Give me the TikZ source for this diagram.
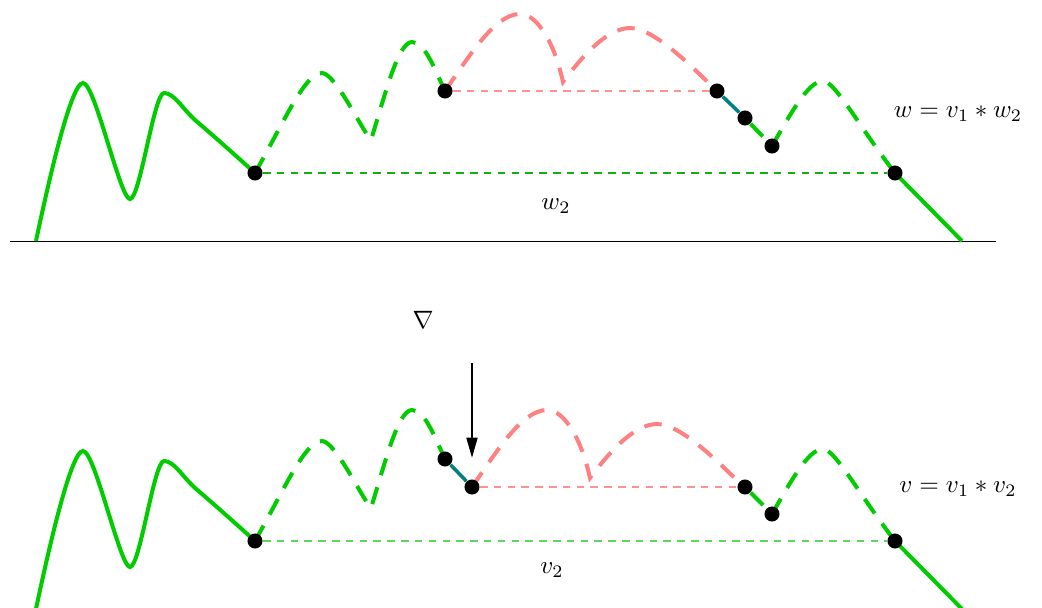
\documentclass[tikz,border=0pt]{standalone}
\usepackage{amsmath,amssymb}
\usetikzlibrary{arrows.meta,backgrounds}
\definecolor{WalkGreen}{RGB}{0,204,0}
\definecolor{LoopPink}{RGB}{255,128,128}
\definecolor{CutTeal}{RGB}{0,128,128}
\definecolor{LevelGreen}{RGB}{20,175,20}
\definecolor{LevelLight}{RGB}{95,215,95}
\definecolor{LevelPink}{RGB}{255,145,145}

\begin{document}
\begin{tikzpicture}[x=1.4cm, y=-1.4cm, line join=round,
  walk/.style={WalkGreen, line width=1.6pt},
  walkdash/.style={walk, dash pattern=on 7pt off 5pt},
  loopdash/.style={LoopPink, line width=1.6pt, dash pattern=on 7pt off 5pt},
  cut/.style={CutTeal, line width=1.4pt},
  level/.style={line width=0.5pt, dash pattern=on 3pt off 2.5pt},
  dot/.style={circle, fill=black, inner sep=0pt, minimum size=6pt}]
  \useasboundingbox (0,0) rectangle (10.42,6.07);
  % dots of w (top) and v (bottom)
  \node[dot] (wa) at (2.55,1.73) {};
  \node[dot] (wb) at (4.45,0.91) {};
  \node[dot] (wc) at (7.17,0.91) {};
  \node[dot] (wd) at (7.45,1.18) {};
  \node[dot] (we) at (7.72,1.46) {};
  \node[dot] (wf) at (8.95,1.73) {};
  \node[dot] (va) at (2.55,5.41) {};
  \node[dot] (vb) at (4.45,4.59) {};
  \node[dot] (vc) at (4.72,4.87) {};
  \node[dot] (vd) at (7.45,4.87) {};
  \node[dot] (ve) at (7.72,5.14) {};
  \node[dot] (vf) at (8.95,5.41) {};
  % labels
  \node (wlabel) at (9.58,1.14) {$w = v_1 * w_2$};
  \node (wlevel) at (5.56,2.06) {$w_2$};
  \node (vlabel) at (9.58,4.89) {$v = v_1 * v_2$};
  \node (vlevel) at (5.52,5.70) {$v_2$};
  \node (grad) at (4.23,3.20) {$\nabla$};
  \coordinate (tail) at (4.72,3.63);
  \draw[-{Triangle[length=8pt,width=4.5pt]}, shorten >=8.5pt] (tail) -- (vc);

  \begin{scope}[on background layer]
  \draw (0.10,2.41) -- (9.96,2.41);
  \foreach \dy in {0,3.68} {
    \begin{scope}[shift={(0,\dy)}]
      \draw[walk] (0.36,2.41) .. controls (0.52,1.65) and (0.72,0.83) .. (0.83,0.83)
        .. controls (0.95,0.83) and (1.20,1.99) .. (1.30,1.99)
        .. controls (1.40,1.99) and (1.54,0.93) .. (1.64,0.93)
        .. controls (1.74,0.93) and (1.82,1.08) .. (1.95,1.20)
        .. controls (2.15,1.37) and (2.35,1.55) .. (2.55,1.73);
      \draw[walkdash] (2.55,1.73) .. controls (2.85,1.20) and (3.05,0.73) .. (3.22,0.73)
        .. controls (3.35,0.73) and (3.62,1.30) .. (3.71,1.40)
        .. controls (3.85,0.95) and (3.98,0.42) .. (4.12,0.42)
        .. controls (4.25,0.42) and (4.35,0.70) .. (4.45,0.91);
      \draw[walkdash] (7.72,1.46) .. controls (7.90,1.15) and (8.08,0.81) .. (8.23,0.81)
        .. controls (8.35,0.81) and (8.60,1.28) .. (8.95,1.73);
      \draw[walk] (8.95,1.73) -- (9.62,2.41);
    \end{scope}
  }
  \foreach \dx/\dy in {0/0, 0.27/3.96} {
    \begin{scope}[shift={(\dx,\dy)}]
      \draw[loopdash] (4.45,0.91) .. controls (4.70,0.55) and (4.95,0.14) .. (5.20,0.14)
        .. controls (5.38,0.14) and (5.55,0.45) .. (5.63,0.82)
        .. controls (5.78,0.62) and (6.05,0.28) .. (6.30,0.28)
        .. controls (6.55,0.28) and (6.95,0.70) .. (7.17,0.91);
    \end{scope}
  }
  \draw[cut] (wc) -- (wd);
  \draw[walkdash] (wd) -- (we);
  \draw[cut] (vb) -- (vc);
  \draw[walkdash] (vd) -- (ve);
  \draw[level, LevelPink] (wb) -- (wc);
  \draw[level, LevelGreen] (wa) -- (wf);
  \draw[level, LevelPink] (vc) -- (vd);
  \draw[level, LevelLight] (va) -- (vf);
  \end{scope}
\end{tikzpicture}
\end{document}
